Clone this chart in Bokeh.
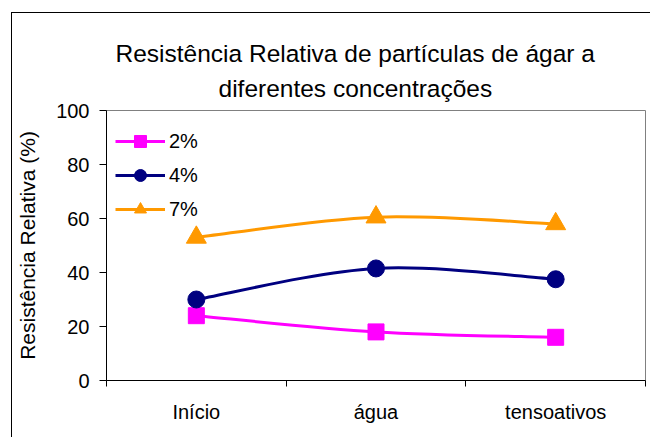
import numpy as np
from bokeh.plotting import figure
from bokeh.models import (FixedTicker, Legend, LegendItem, Title, Range1d,
                          ColumnDataSource, InlineStyleSheet)
from bokeh.embed import file_html
from bokeh.resources import INLINE

# ---- data ----
categories = ["Início", "água", "tensoativos"]
series_names = ["2%", "4%", "7%"]
s2 = [24, 18, 16]
s4 = [30, 41.5, 37.5]
s7 = [53, 60.5, 58]
y_ticks = [0, 20, 40, 60, 80, 100]
title_lines = ["Resistência Relativa de partículas de ágar a", "diferentes concentrações"]
y_label = "Resistência Relativa (%)"

series = [s2, s4, s7]
colors = ["#FF00FF", "#000080", "#FF9900"]
markers = ["square", "circle", "triangle"]
sizes = [16, 17, 20]
FONT = "Liberation Sans"

xs = [i + 0.5 for i in range(len(categories))]

p = figure(width=650, height=437, output_backend="svg", toolbar_location=None,
           x_range=Range1d(0, len(categories)), y_range=Range1d(0, 100),
           min_border_left=106, min_border_top=110, min_border_right=5,
           min_border_bottom=57)
p.background_fill_color = "white"
p.border_fill_color = "white"
p.outline_line_color = "#808080"
p.outline_line_width = 1
p.xgrid.visible = False
p.ygrid.visible = False
p.title.visible = False


def smooth_segments(xv, yv):
    pts = list(zip(xv, yv))
    n = len(pts)
    out = {k: [] for k in ["x0", "y0", "x1", "y1", "cx0", "cy0", "cx1", "cy1"]}
    for i in range(n - 1):
        P0 = pts[i - 1] if i > 0 else pts[i]
        P1 = pts[i]
        P2 = pts[i + 1]
        P3 = pts[i + 2] if i + 2 < n else pts[i + 1]
        out["x0"].append(P1[0]); out["y0"].append(P1[1])
        out["x1"].append(P2[0]); out["y1"].append(P2[1])
        out["cx0"].append(P1[0] + (P2[0] - P0[0]) / 6.0)
        out["cy0"].append(P1[1] + (P2[1] - P0[1]) / 6.0)
        out["cx1"].append(P2[0] - (P3[0] - P1[0]) / 6.0)
        out["cy1"].append(P2[1] - (P3[1] - P1[1]) / 6.0)
    return out


items = []
for name, vals, col, mk, sz in zip(series_names, series, colors, markers, sizes):
    seg = ColumnDataSource(smooth_segments(xs, vals))
    bz = p.bezier(x0="x0", y0="y0", x1="x1", y1="y1", cx0="cx0", cy0="cy0",
                  cx1="cx1", cy1="cy1", source=seg, line_color=col, line_width=3)
    sc = p.scatter(xs, vals, marker=mk, size=sz, fill_color=col, line_color=col)
    items.append(LegendItem(label=name, renderers=[bz, sc]))

legend = Legend(items=items, location=(9, 156), glyph_width=50, glyph_height=30,
                label_height=20, spacing=4, padding=0, margin=0, label_standoff=4,
                border_line_color=None, background_fill_alpha=0,
                label_text_font_size="20px", label_text_font=FONT,
                label_text_color="black")
p.add_layout(legend)

# x axis
p.xaxis.ticker = FixedTicker(ticks=xs, minor_ticks=list(range(len(categories) + 1)))
p.xaxis.major_label_overrides = {x: c for x, c in zip(xs, categories)}
p.xaxis.major_tick_out = 0
p.xaxis.major_tick_in = 0
p.xaxis.minor_tick_out = 6
p.xaxis.minor_tick_in = 0
p.xaxis.minor_tick_line_color = "black"
p.xaxis.major_label_standoff = 14
p.xaxis.major_label_text_font_size = "20px"
p.xaxis.major_label_text_font = FONT
p.xaxis.major_label_text_color = "black"
p.xaxis.axis_line_color = "black"

# y axis
p.yaxis.ticker = FixedTicker(ticks=y_ticks)
p.yaxis.major_tick_out = 7
p.yaxis.major_tick_in = 0
p.yaxis.minor_tick_line_color = None
p.yaxis.major_tick_line_color = "black"
p.yaxis.major_label_standoff = 10
p.yaxis.major_label_text_font_size = "20px"
p.yaxis.major_label_text_font = FONT
p.yaxis.major_label_text_color = "black"
p.yaxis.axis_line_color = "black"
p.yaxis.axis_label = y_label
p.yaxis.axis_label_text_font_size = "21px"
p.yaxis.axis_label_text_font = FONT
p.yaxis.axis_label_text_font_style = "normal"
p.yaxis.axis_label_text_color = "black"
p.yaxis.axis_label_standoff = 14

# title (two lines) - second line closest to the plot
p.add_layout(Title(text=title_lines[1], align="left", offset=112, standoff=17,
                   text_font_size="24.5px", text_font=FONT, text_font_style="normal",
                   text_color="black"), "above")
p.add_layout(Title(text=title_lines[0], align="left", offset=9, standoff=-4,
                   text_font_size="24.5px", text_font=FONT, text_font_style="normal",
                   text_color="black"), "above")

# outer chart border (left and top edges visible in the window)
p.stylesheets = [InlineStyleSheet(css="""
:host::after {
  content: "";
  position: absolute;
  left: 11px; top: 12px; right: 0px; bottom: 0px;
  border-left: 1px solid black;
  border-top: 1px solid black;
  pointer-events: none;
  z-index: 10;
}
""")]

open("out.html", "w").write(file_html(p, INLINE))
